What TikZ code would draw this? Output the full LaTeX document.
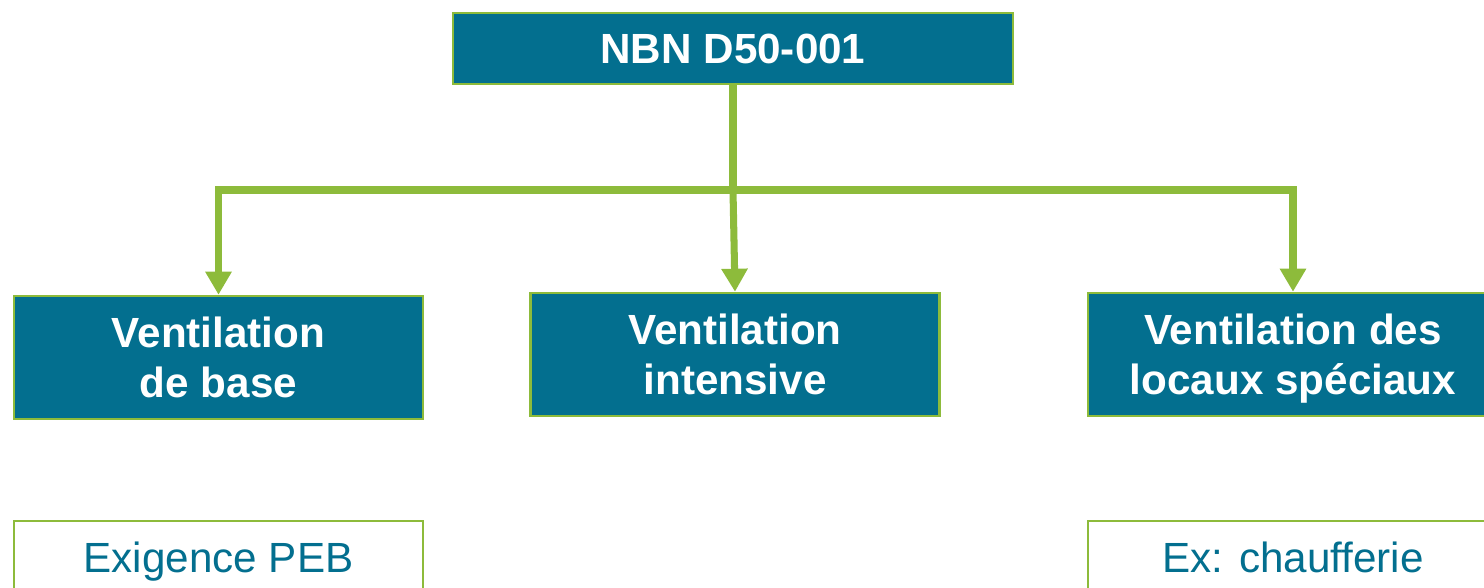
\documentclass[tikz,border=0pt]{standalone}
\usepackage{fontspec}
\setmainfont{Liberation Sans}
\usetikzlibrary{arrows.meta}
\definecolor{petrol}{HTML}{036F8F}
\definecolor{leaf}{HTML}{8DBB3B}
\tikzset{
	mainbox/.style={draw=leaf, line width=0.7pt, fill=petrol, text=white, inner sep=0pt,
		text depth=0pt, align=center, font=\fontsize{12}{14.2}\selectfont\bfseries},
	notebox/.style={draw=leaf, line width=0.7pt, fill=white, inner sep=0pt},
	notetext/.style={text=petrol, anchor=base, font=\fontsize{12}{14.2}\selectfont},
	link/.style={draw=leaf, line width=2pt},
	linkarrow/.style={link, -{Triangle[width=0.25cm,length=0.23cm]}}
}
\begin{document}
\begin{tikzpicture}[x=0.01cm,y=-0.01cm]
		\useasboundingbox (0,0) rectangle (1484,587);
		%draw top box
		\node[mainbox, minimum width=5.6cm, minimum height=0.71cm] (norm) at (733,48.5) {NBN D50-001};
		%draw middle boxes
		\node[mainbox, minimum width=4.09cm, minimum height=1.23cm] (base) at (218.5,357.5) {Ventilation\\de base};
		\node[mainbox, minimum width=4.09cm, minimum height=1.23cm] (intensive) at (735,354.5) {Ventilation\\intensive};
		\node[mainbox, minimum width=4.10cm, minimum height=1.23cm] (special) at (1293,354.5) {Ventilation des\\locaux sp\'eciaux};
		%draw bottom boxes
		\node[notebox, minimum width=4.09cm, minimum height=1.23cm, anchor=north] (peb) at (218.5,520) {};
		\node[notebox, minimum width=4.10cm, minimum height=1.23cm, anchor=north] (chauff) at (1293,520) {};
		\node[notetext] (pebtext) at (218.5,572) {Exigence PEB};
		\node[notetext] (chaufftext) at (1293,572) {Ex: chaufferie};
		%draw connectors
		\coordinate (split) at (733,190);
		\draw[link] (norm.south) -- (split);
		\draw[linkarrow] (split) -| (base.north);
		\draw[linkarrow] (split) -| (special.north);
		\draw[linkarrow] (split) -- (intensive.north);
\end{tikzpicture}
\end{document}
